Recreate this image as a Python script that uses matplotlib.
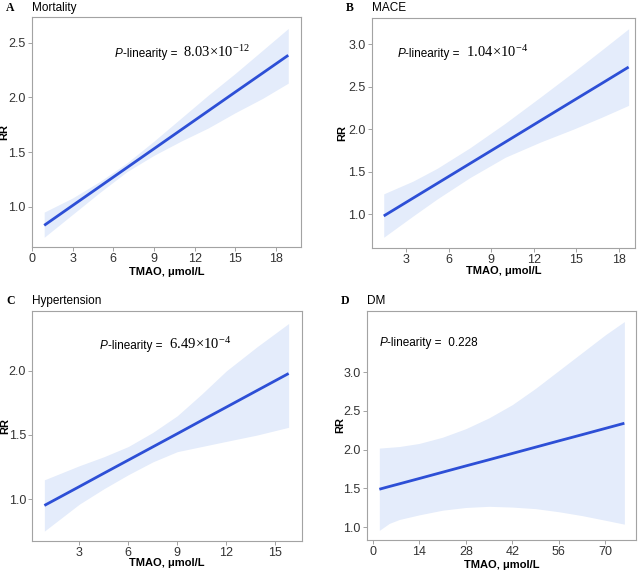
import matplotlib
matplotlib.use("Agg")
import matplotlib.pyplot as plt
import numpy as np
from matplotlib.offsetbox import TextArea, HPacker, AnnotationBbox

plt.rcParams['font.family'] = ['Liberation Sans', 'DejaVu Sans']
plt.rcParams['mathtext.fontset'] = 'custom'
plt.rcParams['mathtext.rm'] = 'Liberation Serif'
plt.rcParams['mathtext.it'] = 'Liberation Serif:italic'

# --- data (TMAO, RR, 95% CI) ---
mort_x = [0.9, 3, 5, 7, 9, 11, 13, 15, 17, 18.9]
mort_rr = [0.829, 1.011, 1.184, 1.357, 1.530, 1.703, 1.876, 2.049, 2.221, 2.385]
mort_lo = [0.72, 0.93, 1.13, 1.32, 1.47, 1.60, 1.72, 1.86, 1.99, 2.13]
mort_hi = [0.95, 1.08, 1.23, 1.40, 1.60, 1.81, 2.02, 2.22, 2.43, 2.63]

mace_x = [1.43, 3.5, 5.2, 7.5, 10, 12.5, 14.8, 16.8, 18.7]
mace_rr = [0.98, 1.190, 1.362, 1.595, 1.848, 2.102, 2.335, 2.537, 2.73]
mace_lo = [0.73, 0.98, 1.18, 1.43, 1.67, 1.85, 2.0, 2.14, 2.28]
mace_hi = [1.24, 1.39, 1.54, 1.78, 2.07, 2.38, 2.67, 2.93, 3.18]

htn_x = [0.86, 3, 4.5, 6, 7.5, 9, 10.5, 12, 13.9, 15.82]
htn_rr = [0.95, 1.097, 1.201, 1.304, 1.407, 1.510, 1.614, 1.717, 1.848, 1.98]
htn_lo = [0.75, 0.96, 1.08, 1.19, 1.29, 1.37, 1.41, 1.45, 1.50, 1.56]
htn_hi = [1.15, 1.26, 1.33, 1.41, 1.52, 1.65, 1.82, 2.00, 2.19, 2.37]

dm_x = [2, 5, 8, 14, 21, 28, 35, 42, 49, 56, 63, 70, 75.7]
dm_rr = [1.49, 1.525, 1.559, 1.628, 1.709, 1.790, 1.870, 1.951, 2.032, 2.113, 2.193, 2.274, 2.34]
dm_lo = [0.96, 1.05, 1.10, 1.16, 1.22, 1.255, 1.27, 1.26, 1.24, 1.20, 1.15, 1.09, 1.04]
dm_hi = [2.02, 2.03, 2.04, 2.08, 2.16, 2.27, 2.41, 2.58, 2.79, 3.02, 3.25, 3.48, 3.65]

panels = [
    dict(letter='A', title='Mortality', x=mort_x, rr=mort_rr, lo=mort_lo, hi=mort_hi,
         p_val='8.03×10$^{-12}$', xticks=[0, 3, 6, 9, 12, 15, 18], yticks=[1.0, 1.5, 2.0, 2.5],
         xlim=(0, 19.84), ylim=(0.631, 2.735), pos=(6.1, 2.41),
         rect=[32, 17, 301, 247], ylab=-0.102, xlab=-0.107),
    dict(letter='B', title='MACE', x=mace_x, rr=mace_rr, lo=mace_lo, hi=mace_hi,
         p_val='1.04×10$^{-4}$', xticks=[3, 6, 9, 12, 15, 18], yticks=[1.0, 1.5, 2.0, 2.5, 3.0],
         xlim=(0.58, 19.15), ylim=(0.607, 3.31), pos=(2.4, 2.906),
         rect=[371.7, 17.7, 635, 247.7], ylab=-0.110, xlab=-0.10),
    dict(letter='C', title='Hypertension', x=htn_x, rr=htn_rr, lo=htn_lo, hi=htn_hi,
         p_val='6.49×10$^{-4}$', xticks=[3, 6, 9, 12, 15], yticks=[1.0, 1.5, 2.0],
         xlim=(0.12, 16.62), ylim=(0.675, 2.47), pos=(4.27, 2.21),
         rect=[32.3, 310.7, 301.7, 540.7], ylab=-0.101, xlab=-0.098),
    dict(letter='D', title='DM', x=dm_x, rr=dm_rr, lo=dm_lo, hi=dm_hi,
         p_val=None, xticks=[0, 14, 28, 42, 56, 70], yticks=[1.0, 1.5, 2.0, 2.5, 3.0],
         xlim=(-1.8, 79.2), ylim=(0.836, 3.79), pos=(2.0, 3.37),
         rect=[366.7, 310.7, 636, 540], ylab=-0.098, xlab=-0.11),
]

W, H = 642, 571
fig = plt.figure(figsize=(W / 100, H / 100), dpi=100)

line_c = '#2D4FD6'
fill_c = '#E4ECFB'
frame_c = '#A3A3A3'

for p in panels:
    l, t, r, b = p['rect']
    ax = fig.add_axes([l / W, 1 - b / H, (r - l) / W, (b - t) / H])
    ax.fill_between(p['x'], p['lo'], p['hi'], color=fill_c, linewidth=0)
    ax.plot(p['x'], p['rr'], color=line_c, linewidth=2.0, solid_capstyle='butt')
    ax.set_xlim(p['xlim'])
    ax.set_ylim(p['ylim'])
    ax.set_xticks(p['xticks'])
    ax.set_yticks(p['yticks'])
    ax.set_yticklabels([f'{v:.1f}' for v in p['yticks']])
    for s in ax.spines.values():
        s.set_color(frame_c)
        s.set_linewidth(0.8)
    ax.tick_params(direction='out', length=3, width=0.7, color=frame_c,
                   labelsize=9, labelcolor='#333333', pad=1.5)

    ax.set_xlabel('TMAO, μmol/L', fontsize=8, fontweight='bold')
    ax.set_ylabel('RR', fontsize=8, fontweight='bold')
    ax.xaxis.label.set_va('center')
    ax.yaxis.label.set_va('center')
    ax.xaxis.set_label_coords(0.5, p['xlab'])
    ax.yaxis.set_label_coords(p['ylab'], 0.5)

    ax.set_title(p['title'], loc='left', fontsize=8.5, pad=4.6)
    ax.annotate(p['letter'], xy=(0, 1), xycoords='axes fraction',
                xytext=(-18.7, 4.6), textcoords='offset points',
                ha='left', va='baseline', fontsize=8.5, fontweight='bold',
                family='Liberation Serif')

    # P-linearity annotation: italic P, sans text, serif number
    parts = [TextArea('P', textprops=dict(fontsize=8.5, style='italic')),
             TextArea('-linearity = ', textprops=dict(fontsize=8.5))]
    if p['p_val'] is None:
        parts.append(TextArea(' 0.228', textprops=dict(fontsize=8.5)))
    else:
        parts.append(TextArea(' ' + p['p_val'], textprops=dict(fontsize=10.5, family='Liberation Serif')))
    box = HPacker(children=parts, align='baseline', pad=0, sep=0)
    ab = AnnotationBbox(box, p['pos'], xycoords='data', box_alignment=(0, 0.5),
                        frameon=False, pad=0)
    ax.add_artist(ab)

fig.savefig('out.png', dpi=100)
